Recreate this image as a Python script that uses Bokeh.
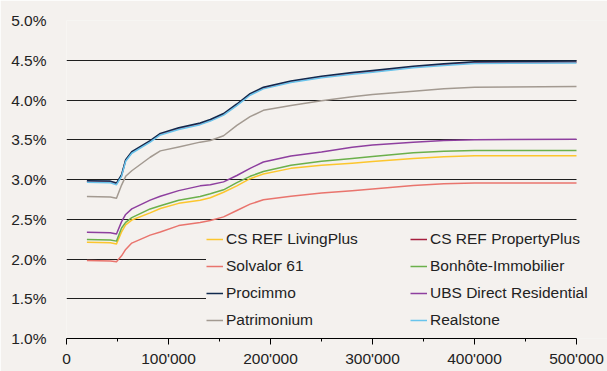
from bokeh.plotting import figure
from bokeh.models import Legend, LegendItem, FixedTicker, Range1d, BoxAnnotation
from bokeh.embed import file_html
from bokeh.resources import INLINE

# ---- data -------------------------------------------------------------
incomes = [20000, 43000, 49000, 54000, 58000, 64000, 82000, 92000, 110000, 131000,
           141000, 154000, 167000, 180000, 193000, 220000, 250000, 280000, 300000,
           340000, 370000, 400000, 500000]

living_plus = [2.21, 2.205, 2.19, 2.34, 2.43, 2.49, 2.58, 2.635, 2.70, 2.74,
               2.77, 2.84, 2.92, 3.01, 3.07, 3.14, 3.18, 3.205, 3.225,
               3.265, 3.285, 3.30, 3.30]
property_plus = [2.975, 2.97, 2.945, 3.05, 3.24, 3.34, 3.48, 3.57, 3.64, 3.70,
                 3.745, 3.82, 3.94, 4.07, 4.15, 4.23, 4.29, 4.335, 4.36,
                 4.415, 4.445, 4.47, 4.475]
solvalor = [1.98, 1.975, 1.965, 2.04, 2.12, 2.20, 2.30, 2.34, 2.42, 2.46,
            2.485, 2.53, 2.61, 2.69, 2.745, 2.79, 2.83, 2.86, 2.88,
            2.925, 2.945, 2.955, 2.955]
bonhote = [2.245, 2.24, 2.225, 2.39, 2.46, 2.52, 2.63, 2.67, 2.74, 2.785,
           2.82, 2.87, 2.96, 3.04, 3.10, 3.18, 3.23, 3.265, 3.29,
           3.335, 3.355, 3.365, 3.365]
procimmo = [2.985, 2.98, 2.955, 3.06, 3.25, 3.35, 3.49, 3.58, 3.65, 3.71,
            3.755, 3.83, 3.95, 4.08, 4.16, 4.24, 4.30, 4.345, 4.37,
            4.425, 4.455, 4.48, 4.49]
ubs_direct = [2.335, 2.33, 2.315, 2.47, 2.56, 2.63, 2.74, 2.79, 2.86, 2.92,
              2.935, 2.97, 3.05, 3.14, 3.22, 3.295, 3.345, 3.405, 3.435,
              3.47, 3.49, 3.50, 3.505]
patrimonium = [2.785, 2.78, 2.765, 2.93, 3.04, 3.11, 3.28, 3.36, 3.41, 3.47,
               3.49, 3.55, 3.68, 3.79, 3.87, 3.93, 3.99, 4.04, 4.07,
               4.11, 4.14, 4.16, 4.17]
realstone = [2.965, 2.96, 2.935, 3.04, 3.23, 3.33, 3.47, 3.56, 3.63, 3.69,
             3.735, 3.81, 3.93, 4.06, 4.14, 4.22, 4.28, 4.325, 4.35,
             4.405, 4.435, 4.46, 4.465]

series_names = ["CS REF LivingPlus", "CS REF PropertyPlus", "Solvalor 61",
                "Bonhôte-Immobilier", "Procimmo", "UBS Direct Residential",
                "Patrimonium", "Realstone"]
series_values = [living_plus, property_plus, solvalor, bonhote, procimmo,
                 ubs_direct, patrimonium, realstone]
series_colors = ["#fcc62d", "#a61e3d", "#e9746d", "#6bb04b", "#10294d",
                 "#8e3f9f", "#a39a91", "#68c4ec"]

x_ticks = [0, 100000, 200000, 300000, 400000, 500000]
x_tick_labels = ["0", "100'000", "200'000", "300'000", "400'000", "500'000"]
x_minor_ticks = [50000, 150000, 250000, 350000, 450000]
y_ticks = [1.0, 1.5, 2.0, 2.5, 3.0, 3.5, 4.0, 4.5, 5.0]
y_tick_labels = ["1.0%", "1.5%", "2.0%", "2.5%", "3.0%", "3.5%", "4.0%", "4.5%", "5.0%"]

# ---- figure -----------------------------------------------------------
BG = "#f4f1ee"
FONT = "Liberation Sans"
FS = "15.5px"
TXT = "#222222"

# frame runs past 500'000 (to the page edge) so the legend is not clipped;
# the axis is bounded at 500'000 and the surplus area is masked.
X_VIEW_END = 530392

p = figure(width=607, height=371, output_backend="svg", toolbar_location=None,
           x_range=Range1d(0, X_VIEW_END), y_range=Range1d(1.0, 5.0),
           min_border_left=66, min_border_right=0, min_border_top=20,
           min_border_bottom=33, background_fill_color=BG, border_fill_color=BG,
           outline_line_color=None)

renderers = []
for vals, col in zip(series_values, series_colors):
    r = p.line(incomes, vals, line_color=col, line_width=1.5, line_join="round")
    renderers.append(r)

# axes
p.xaxis.bounds = (x_ticks[0], x_ticks[-1])
p.xaxis.ticker = FixedTicker(ticks=x_ticks, minor_ticks=x_minor_ticks)
p.xaxis.major_label_overrides = {t: l for t, l in zip(x_ticks, x_tick_labels)}
p.xaxis.axis_line_color = "#000000"
p.xaxis.major_tick_line_color = "#000000"
p.xaxis.minor_tick_line_color = "#000000"
p.xaxis.major_tick_out = 6
p.xaxis.major_tick_in = 0
p.xaxis.minor_tick_out = 3
p.xaxis.minor_tick_in = 0
p.xaxis.major_label_standoff = 5
p.xaxis.major_label_text_font = FONT
p.xaxis.major_label_text_font_size = FS
p.xaxis.major_label_text_color = TXT

p.yaxis.ticker = FixedTicker(ticks=y_ticks)
p.yaxis.major_label_overrides = {t: l for t, l in zip(y_ticks, y_tick_labels)}
p.yaxis.axis_line_color = None
p.yaxis.major_tick_line_color = None
p.yaxis.minor_tick_line_color = None
p.yaxis.major_label_standoff = 14
p.yaxis.major_label_text_font = FONT
p.yaxis.major_label_text_font_size = FS
p.yaxis.major_label_text_color = TXT

p.xgrid.visible = False
p.ygrid.grid_line_color = "#1e1e1e"
p.ygrid.grid_line_width = 1

# mask grid beyond the last x tick
mask = BoxAnnotation(left=x_ticks[-1], fill_color=BG, fill_alpha=1.0,
                     line_alpha=0, level="underlay")
p.add_layout(mask)

# legends (two columns)
col1 = [0, 2, 4, 6]
col2 = [1, 3, 5, 7]
common = dict(orientation="vertical", margin=0, padding=2, spacing=3,
              glyph_width=17, glyph_height=24, label_height=24, label_standoff=3,
              label_text_font=FONT, label_text_font_size=FS, label_text_color=TXT,
              background_fill_color=BG, background_fill_alpha=1.0,
              border_line_color=None)
leg1 = Legend(items=[LegendItem(label=series_names[i], renderers=[renderers[i]]) for i in col1],
              location=(140, 6), label_width=192, **common)
leg2 = Legend(items=[LegendItem(label=series_names[i], renderers=[renderers[i]]) for i in col2],
              location=(344, 6), **common)
p.add_layout(leg1)
p.add_layout(leg2)

open("out.html", "w").write(file_html(p, INLINE))
